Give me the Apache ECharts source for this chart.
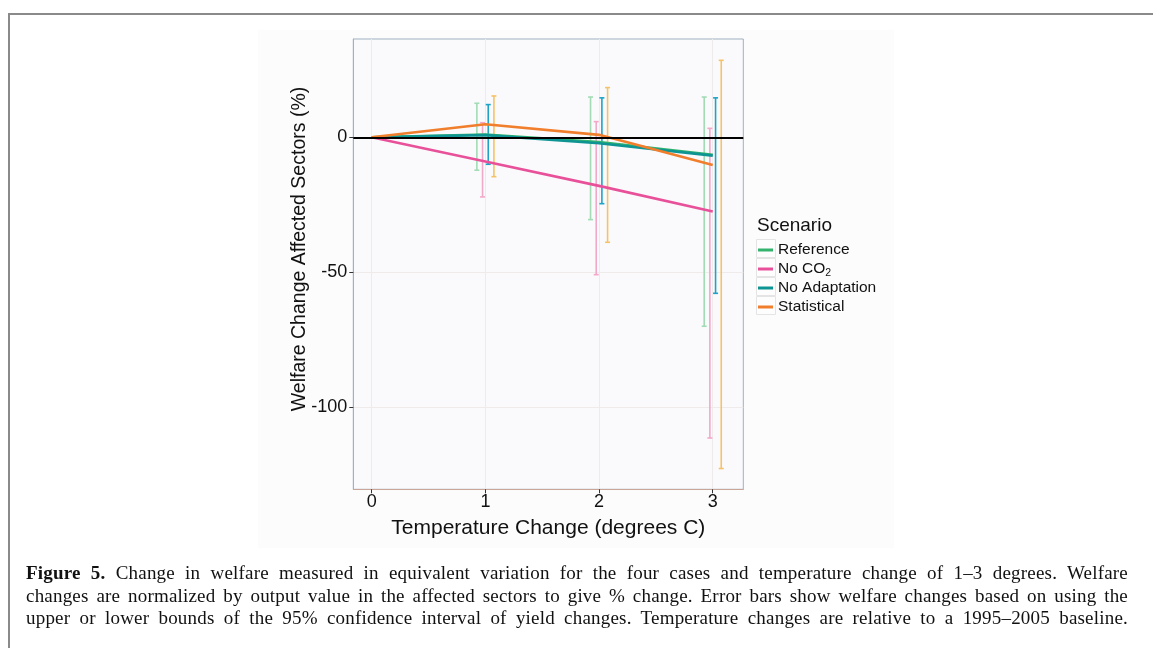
<!DOCTYPE html>
<html>
<head>
<meta charset="utf-8">
<script src="https://cdn.jsdelivr.net/npm/echarts@6/dist/echarts.min.js"></script>
<style>
  html, body { margin:0; padding:0; background:#fff; }
  #wrap { position:relative; width:1153px; height:648px; overflow:hidden; }
  #chart { position:absolute; left:0; top:0; width:1153px; height:648px; }
  #frame { position:absolute; left:8px; top:13px; right:0; bottom:0; border-top:2px solid #8a8a8a; border-left:2px solid #8a8a8a; pointer-events:none; }
  #caption { position:absolute; left:26px; top:562px; width:1102px; font-family:"Liberation Serif","DejaVu Serif",serif; font-size:19px; letter-spacing:0.2px; line-height:22.6px; color:#111; }
  #caption div { text-align:justify; text-align-last:justify; white-space:normal; }
</style>
</head>
<body>
<div id="wrap">
  <div id="chart"></div>
  <div id="frame"></div>
  <div id="caption">
    <div><b>Figure 5.</b> Change in welfare measured in equivalent variation for the four cases and temperature change of 1–3 degrees. Welfare</div>
    <div>changes are normalized by output value in the affected sectors to give % change. Error bars show welfare changes based on using the</div>
    <div>upper or lower bounds of the 95% confidence interval of yield changes. Temperature changes are relative to a 1995–2005 baseline.</div>
  </div>
</div>
<script>
// ---- data ----
const temps = [0, 1, 2, 3];
const errTemps = [1, 2, 3];
const xTicks = [0, 1, 2, 3];
const yTicks = [-100, -50, 0];
const scenarios = ['Reference', 'No CO2', 'No Adaptation', 'Statistical'];

const referenceMean   = [0, 1.0, -1.8, -6.5];
const noCO2Mean       = [0, -9.0, -18.0, -27.5];
const noAdaptMean     = [0, 0.8, -2.2, -6.8];
const statisticalMean = [0, 4.8, 0.9, -10.3];

const referenceLow    = [-12.2, -30.5, -70.0];
const referenceHigh   = [12.6, 14.9, 14.9];
const noCO2Low        = [-22.1, -50.9, -111.4];
const noCO2High       = [5.4, 5.8, 3.3];
const noAdaptLow      = [-10.0, -24.6, -57.8];
const noAdaptHigh     = [12.1, 14.6, 14.6];
const statisticalLow  = [-14.6, -38.9, -122.7];
const statisticalHigh = [15.3, 18.4, 28.5];

// ---- style ----
const lineColors = ['#33b36d', '#e8519a', '#0f9494', '#f07e2c'];
const barColors  = ['#a3dbb5', '#f2a8c9', '#1ea3c6', '#f6c267'];
const dodge = [-0.075, -0.025, 0.025, 0.075];

const means = [referenceMean, noCO2Mean, noAdaptMean, statisticalMean];
const lows  = [referenceLow, noCO2Low, noAdaptLow, statisticalLow];
const highs = [referenceHigh, noCO2High, noAdaptHigh, statisticalHigh];

function errRender(idx) {
  return function (params, api) {
    const x = api.value(0), lo = api.value(1), hi = api.value(2);
    const unit = api.size([1, 0])[0];
    const pLo = api.coord([x, lo]);
    const pHi = api.coord([x, hi]);
    const cx = pLo[0] + dodge[idx] * unit;
    const cap = 2.5;
    const st = { stroke: barColors[idx], lineWidth: 1.6 };
    return {
      type: 'group',
      children: [
        { type: 'line', shape: { x1: cx, y1: pLo[1], x2: cx, y2: pHi[1] }, style: st },
        { type: 'line', shape: { x1: cx - cap, y1: pLo[1], x2: cx + cap, y2: pLo[1] }, style: st },
        { type: 'line', shape: { x1: cx - cap, y1: pHi[1], x2: cx + cap, y2: pHi[1] }, style: st }
      ]
    };
  };
}

const series = [];
scenarios.forEach(function (name, i) {
  series.push({
    name: name,
    type: 'custom',
    renderItem: errRender(i),
    encode: { x: 0, y: [1, 2] },
    itemStyle: { color: lineColors[i] },
    data: errTemps.map(function (t, k) { return [t, lows[i][k], highs[i][k]]; }),
    z: 2,
    silent: true
  });
});
scenarios.forEach(function (name, i) {
  series.push({
    name: name,
    type: 'line',
    data: temps.map(function (t, k) { return [t, means[i][k]]; }),
    showSymbol: false,
    symbol: 'none',
    lineStyle: { color: lineColors[i], width: 2.6 },
    itemStyle: { color: lineColors[i] },
    z: 3,
    silent: true
  });
});
series.push({
  name: 'zero',
  type: 'line',
  data: [],
  z: 5,
  silent: true,
  markLine: {
    silent: true,
    symbol: ['none', 'none'],
    label: { show: false },
    lineStyle: { color: '#000', width: 2, type: 'solid' },
    data: [{ yAxis: 0 }],
    animation: false
  }
});

const FONT = 'Liberation Sans, Arial, sans-serif';
const keyBoxes = scenarios.map(function (s, i) {
  return { type: 'rect', left: 756, top: 239 + i * 19, shape: { width: 19, height: 18 },
           style: { fill: '#fdfdfd', stroke: '#e4e4e4', lineWidth: 1 }, z: -1, silent: true };
});
const chart = echarts.init(document.getElementById('chart'), null, { renderer: 'canvas' });
chart.setOption({
  animation: false,
  backgroundColor: 'transparent',
  textStyle: { fontFamily: FONT },
  graphic: [
    { type: 'rect', left: 258, top: 30, shape: { width: 636, height: 518 }, style: { fill: '#fcfcfd' }, z: -10, silent: true },
    { type: 'text', left: 757, top: 216, style: { text: 'Scenario', fontSize: 19, fill: '#111', fontFamily: FONT }, silent: true },
    { type: 'text', x: 300, y: 249, rotation: Math.PI / 2, silent: true,
      style: { text: 'Welfare Change Affected Sectors (%)', fontSize: 19.5, fill: '#111', fontFamily: FONT, align: 'center', verticalAlign: 'middle' } }
  ].concat(keyBoxes),
  grid: {
    left: 353.3, top: 39, width: 390, height: 450.3,
    show: true, backgroundColor: '#fafafc', borderColor: '#9fb0be', borderWidth: 1,
    containLabel: false
  },
  xAxis: {
    type: 'value', min: -0.162, max: 3.269,
    name: 'Temperature Change (degrees C)', nameLocation: 'middle', nameGap: 28,
    nameTextStyle: { fontSize: 21, color: '#111' },
    axisLine: { show: true, onZero: false, lineStyle: { color: '#c9a596', width: 1 } },
    axisTick: { show: true, length: 4, lineStyle: { color: '#333' }, customValues: xTicks },
    axisLabel: { fontSize: 18, color: '#111', margin: 4, customValues: xTicks },
    splitLine: { show: true, lineStyle: { color: '#efebeb', width: 1 } }
  },
  yAxis: {
    type: 'value', min: -130.4, max: 36.4,
    axisLine: { show: true, onZero: false, lineStyle: { color: '#c9a596', width: 1 } },
    axisTick: { show: true, length: 4, lineStyle: { color: '#333' }, customValues: yTicks },
    axisLabel: { fontSize: 18, color: '#111', margin: 6, customValues: yTicks },
    splitLine: { show: true, lineStyle: { color: '#efebeb', width: 1 } }
  },
  legend: {
    data: scenarios,
    orient: 'vertical',
    left: 753, top: 235.5,
    icon: 'rect', itemWidth: 15, itemHeight: 3, itemGap: 0,
    selectedMode: false,
    textStyle: {
      fontSize: 15.5, color: '#111', lineHeight: 19, padding: [0, 0, 0, 0],
      rich: { b: { fontSize: 15.5, lineHeight: 19 }, s: { fontSize: 10.5, lineHeight: 19, verticalAlign: 'bottom', padding: [7, 0, 0, 0] } }
    },
    formatter: function (n) { return n === 'No CO2' ? '{b|No CO}{s|2}' : n; }
  },
  series: series
});
</script>
</body>
</html>
